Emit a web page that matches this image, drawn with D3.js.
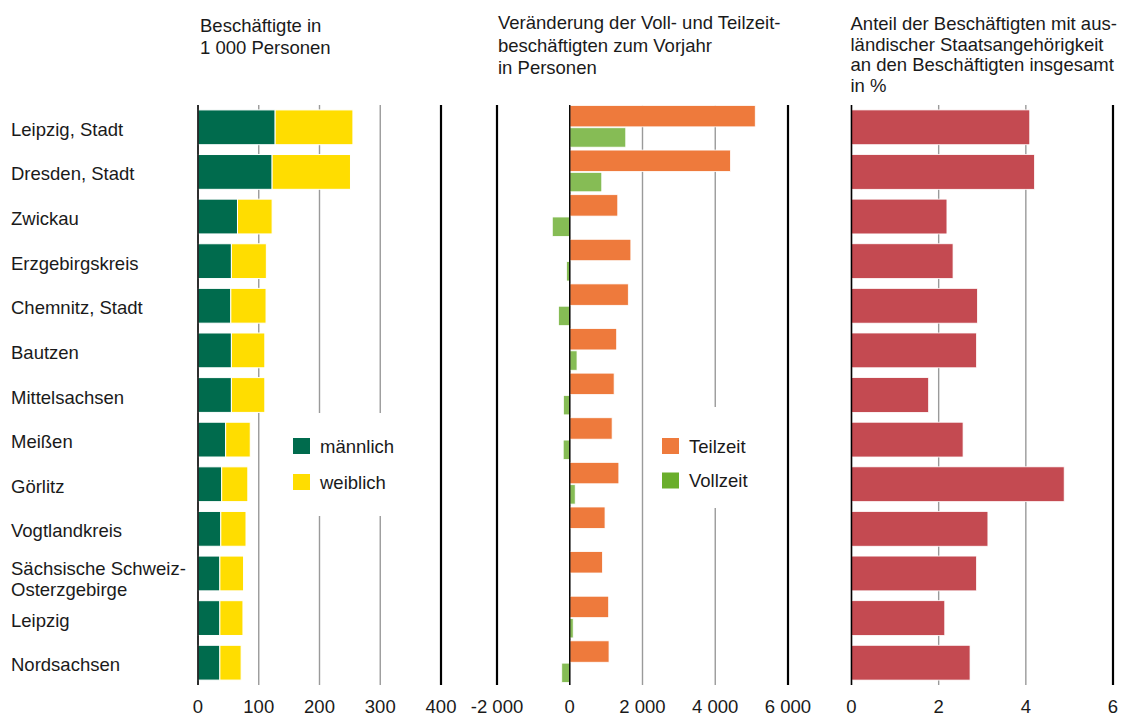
<!DOCTYPE html>
<html>
<head>
<meta charset="utf-8">
<script src="https://cdn.jsdelivr.net/npm/d3@7"></script>
<style>
  body { margin: 0; background: #fff; }
  svg text { font-family: "Liberation Sans", Arial, sans-serif; font-size: 18.5px; fill: #1a1a1a; }
</style>
</head>
<body>
<svg id="chart" width="1127" height="718"></svg>
<script>
// Kreise, von oben nach unten
let regions = ["Leipzig, Stadt", "Dresden, Stadt", "Zwickau", "Erzgebirgskreis", "Chemnitz, Stadt",
  "Bautzen", "Mittelsachsen", "Meißen", "Görlitz", "Vogtlandkreis",
  "Sächsische Schweiz-Osterzgebirge", "Leipzig", "Nordsachsen"];

// Beschäftigte in 1 000 Personen
let maennlich = [127, 122, 65, 55, 54, 55, 55, 45.5, 39, 37.5, 36, 36, 36];
let weiblich = [128, 129, 57, 57.5, 58, 55, 55, 40.5, 43, 41.5, 39, 38, 35];

// Veränderung zum Vorjahr in Personen
let teilzeit = [5100, 4420, 1320, 1680, 1610, 1290, 1220, 1165, 1350, 970, 900, 1070, 1080];
let vollzeit = [1540, 880, -480, -90, -310, 200, -175, -180, 150, 0, 0, 95, -220];

// Anteil ausländischer Beschäftigter in %
let anteil = [4.09, 4.2, 2.19, 2.33, 2.89, 2.87, 1.77, 2.56, 4.88, 3.13, 2.87, 2.14, 2.72];

let ticks1 = [0, 100, 200, 300, 400];
let ticks2 = [-2000, 0, 2000, 4000, 6000];
let ticks3 = [0, 2, 4, 6];

let svg = d3.select("#chart");
let yTop = 105, yBottom = 685;
let fmtNum = d => Math.abs(d) >= 1000 ? (d < 0 ? "-" : "") + d3.format(",")(Math.abs(d)).replace(/,/g, " ") : String(d);

let y = d3.scaleBand().domain(regions).range([yTop, yBottom]).paddingInner(0.22).paddingOuter(0.11);
let yRow = d3.scaleBand().domain(regions).range([yTop, yBottom]).padding(0);
let ySub = d3.scaleBand().domain(["Teilzeit", "Vollzeit"]).range([0, yRow.bandwidth()])
  .paddingInner(0.04).paddingOuter(0.02);

let x1 = d3.scaleLinear().domain([0, 400]).range([198, 441]);
let x2 = d3.scaleLinear().domain([-2000, 6000]).range([497, 788]);
let x3 = d3.scaleLinear().domain([0, 6]).range([851.5, 1113]);

function grid(g, x, ticks, frame) {
  ticks.forEach(t => {
    let strong = frame.indexOf(t) >= 0;
    g.append("line")
      .attr("x1", x(t)).attr("x2", x(t))
      .attr("y1", yTop).attr("y2", yBottom)
      .attr("stroke", strong ? "#000" : "#9a9a9a")
      .attr("stroke-width", strong ? 2.2 : 1.4);
  });
  g.append("g").attr("transform", `translate(0,${yBottom + 28})`)
    .selectAll("text").data(ticks).join("text")
    .attr("x", d => x(d)).attr("text-anchor", "middle")
    .text(d => fmtNum(d));
}

function title(lines, x0, y0, lh) {
  let t = svg.append("text").attr("x", x0).attr("y", y0);
  lines.forEach((l, i) => t.append("tspan").attr("x", x0).attr("dy", i ? lh : 0).text(l));
}

function legend(g, items, x0, y0, dy) {
  items.forEach(([label, color], i) => {
    g.append("rect").attr("x", x0).attr("y", y0 + i * dy).attr("width", 17).attr("height", 16).attr("fill", color);
    g.append("text").attr("x", x0 + 27).attr("y", y0 + i * dy + 14.5).text(label);
  });
}

// Panel 1
let p1 = svg.append("g");
grid(p1, x1, ticks1, [400]);
p1.append("rect").attr("x", 283).attr("y", 413).attr("width", 150).attr("height", 103).attr("fill", "#fff");
p1.selectAll(".m").data(regions).join("rect")
  .attr("x", x1(0)).attr("y", d => y(d))
  .attr("width", (d, i) => x1(maennlich[i]) - x1(0)).attr("height", y.bandwidth())
  .attr("fill", "#006b4d").attr("stroke", "#fff").attr("stroke-width", 1);
p1.selectAll(".w").data(regions).join("rect")
  .attr("x", (d, i) => x1(maennlich[i])).attr("y", d => y(d))
  .attr("width", (d, i) => x1(maennlich[i] + weiblich[i]) - x1(maennlich[i])).attr("height", y.bandwidth())
  .attr("fill", "#ffdd00").attr("stroke", "#fff").attr("stroke-width", 1);
p1.append("line").attr("x1", x1(0)).attr("x2", x1(0)).attr("y1", yTop).attr("y2", yBottom)
  .attr("stroke", "#000").attr("stroke-width", 1.5);
legend(p1, [["männlich", "#006b4d"], ["weiblich", "#ffdd00"]], 293, 438, 36);

// Panel 2
let p2 = svg.append("g");
grid(p2, x2, ticks2, [-2000, 6000]);
p2.append("rect").attr("x", 655).attr("y", 407).attr("width", 118).attr("height", 101).attr("fill", "#fff");
p2.selectAll(".t").data(regions).join("rect")
  .attr("x", (d, i) => x2(Math.min(0, teilzeit[i]))).attr("y", d => yRow(d) + ySub("Teilzeit"))
  .attr("width", (d, i) => Math.abs(x2(teilzeit[i]) - x2(0))).attr("height", ySub.bandwidth())
  .attr("fill", "#ee7a3c").attr("stroke", "#fff").attr("stroke-width", 0.8);
p2.selectAll(".v").data(regions).join("rect")
  .attr("x", (d, i) => x2(Math.min(0, vollzeit[i]))).attr("y", d => yRow(d) + ySub("Vollzeit"))
  .attr("width", (d, i) => Math.abs(x2(vollzeit[i]) - x2(0))).attr("height", ySub.bandwidth() - 2)
  .attr("fill", "#86bc55").attr("stroke", "#fff").attr("stroke-width", 0.8);
p2.append("line").attr("x1", x2(0)).attr("x2", x2(0)).attr("y1", yTop).attr("y2", yBottom)
  .attr("stroke", "#000").attr("stroke-width", 1.4);
legend(p2, [["Teilzeit", "#ee7a3c"], ["Vollzeit", "#6aae2b"]], 662, 438, 34.5);

// Panel 3
let p3 = svg.append("g");
grid(p3, x3, ticks3, [6]);
p3.selectAll(".a").data(regions).join("rect")
  .attr("x", x3(0)).attr("y", d => y(d))
  .attr("width", (d, i) => x3(anteil[i]) - x3(0)).attr("height", y.bandwidth())
  .attr("fill", "#c44a51").attr("stroke", "#fff").attr("stroke-width", 0.8);
p3.append("line").attr("x1", x3(0)).attr("x2", x3(0)).attr("y1", yTop).attr("y2", yBottom)
  .attr("stroke", "#000").attr("stroke-width", 1.5);

// Kategorien
let labels = svg.append("g");
regions.forEach(r => {
  let cy = y(r) + y.bandwidth() / 2;
  let parts = r === "Sächsische Schweiz-Osterzgebirge" ? ["Sächsische Schweiz-", "Osterzgebirge"] : [r];
  let t = labels.append("text").attr("x", 11).attr("y", parts.length > 1 ? cy + 2 : cy + 8.5);
  parts.forEach((p, i) => t.append("tspan").attr("x", 11).attr("dy", i ? 20.5 : 0).text(p));
});

// Titel
title(["Beschäftigte in", "1 000 Personen"], 200, 31.5, 22.5);
title(["Veränderung der Voll- und Teilzeit-", "beschäftigten zum Vorjahr", "in Personen"], 498, 29, 22.5);
title(["Anteil der Beschäftigten mit aus-", "ländischer Staatsangehörigkeit", "an den Beschäftigten insgesamt", "in %"], 850.5, 30, 20.7);
</script>
</body>
</html>
